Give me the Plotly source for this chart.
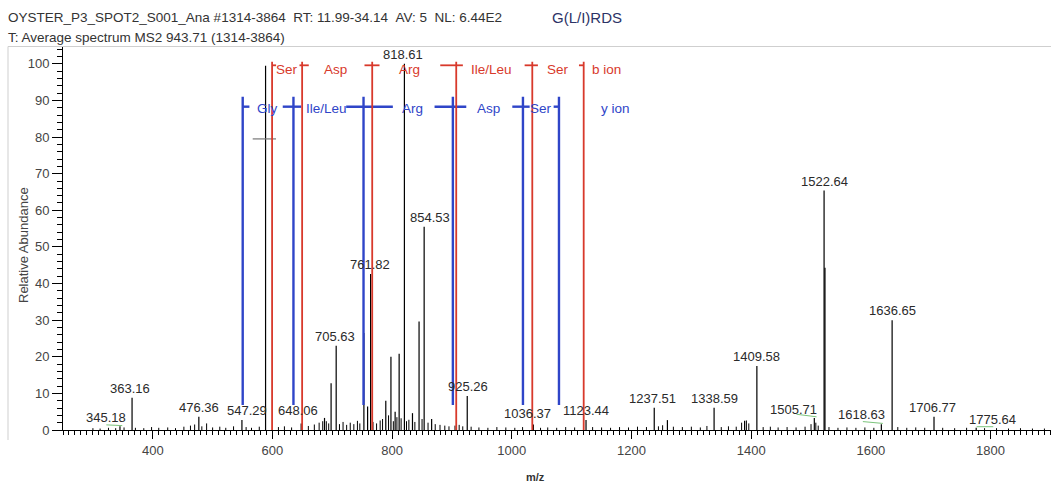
import plotly.graph_objects as go

# ---------------- data ----------------
# main (labelled / visible) peaks: m/z and relative abundance
peak_mz = [345.2, 365.4, 477.0, 549.0, 588.5, 648.0, 687.0, 698.0, 706.5, 752.8, 759.0,
           764.0, 789.4, 798.0, 805.0, 811.7, 820.5, 834.0, 845.0, 853.5, 866.0, 925.5,
           1036.0, 1124.0, 1238.0, 1260.0, 1338.0, 1389.0, 1409.5, 1505.5, 1521.8, 1523.3,
           1617.5, 1635.5, 1705.5, 1776.0]
peak_int = [1.0, 8.8, 3.6, 2.7, 99.5, 1.8, 3.3, 12.8, 23.0, 26.5, 6.4,
            42.6, 8.0, 20.0, 5.0, 20.8, 100.0, 4.6, 29.6, 55.5, 3.0, 9.3,
            1.5, 2.7, 6.1, 2.7, 6.1, 2.5, 17.5, 3.3, 65.4, 44.3,
            1.6, 30.0, 3.6, 0.6]

# small background peaks
noise_mz = [300, 312, 326, 338, 352, 371, 385, 398, 410, 425, 438, 452, 463, 470, 482, 490,
            500, 512, 522, 535, 556, 565, 578, 610, 620, 632, 660, 670, 678, 684, 690, 694,
            712, 718, 724, 730, 736, 742, 746, 768, 774, 780, 784, 794, 802, 808, 815, 824,
            828, 838, 850, 860, 872, 880, 888, 895, 905, 912, 918, 932, 945, 960, 975, 990,
            1005, 1018, 1048, 1060, 1075, 1090, 1105, 1135, 1150, 1165, 1180, 1195, 1210,
            1225, 1245, 1252, 1270, 1285, 1300, 1315, 1326, 1350, 1362, 1375, 1384, 1392,
            1396, 1420, 1432, 1445, 1460, 1475, 1490, 1500, 1508, 1512, 1530, 1545, 1560,
            1575, 1590, 1605, 1645, 1660, 1675, 1690, 1720, 1740, 1760, 1790, 1810, 1830,
            1850, 1870, 1890]
noise_int = [0.5, 0.4, 0.6, 0.5, 0.7, 0.6, 0.5, 0.8, 0.6, 0.7, 0.5, 0.9, 1.2, 1.5, 1.0, 1.8,
             0.7, 0.9, 0.6, 1.0, 0.8, 0.6, 0.9, 0.8, 1.0, 0.7, 1.1, 1.5, 2.0, 2.4, 2.4, 1.8,
             1.6, 2.2, 1.4, 2.0, 1.6, 2.5, 1.8, 2.2, 1.8, 2.6, 3.0, 4.0, 2.4, 3.5, 3.2, 2.4,
             2.8, 2.2, 3.0, 2.0, 1.6, 1.4, 1.2, 1.0, 1.2, 1.4, 1.0, 0.9, 0.7, 0.6, 0.8, 0.7,
             0.6, 0.8, 0.6, 0.7, 0.6, 0.8, 0.7, 0.8, 0.7, 0.6, 0.8, 0.7, 0.9,
             0.8, 1.0, 1.3, 0.9, 0.8, 0.9, 0.7, 1.1, 0.8, 1.0, 0.9, 2.0, 2.6,
             1.8, 0.8, 0.9, 0.7, 0.8, 0.7, 0.9, 1.6, 2.0, 1.2, 0.8, 0.6, 0.7,
             0.6, 0.7, 0.6, 0.8, 0.6, 0.7, 0.6, 0.6, 0.5, 0.6, 0.5, 0.5, 0.4,
             0.5, 0.4, 0.4]

# peak labels
label_text = ["345.18", "363.16", "476.36", "547.29", "648.06", "705.63", "761.82", "818.61",
              "854.53", "925.26", "1036.37", "1123.44", "1237.51", "1338.59", "1409.58",
              "1505.71", "1522.64", "1618.63", "1636.65", "1706.77", "1775.64"]
label_mz = [345.2, 365.4, 477.0, 549.0, 648.0, 706.5, 764.0, 820.5, 853.5, 925.5, 1036.0,
            1124.0, 1238.0, 1338.0, 1409.5, 1505.5, 1521.8, 1617.5, 1635.5, 1705.5, 1776.0]
label_int = [1.0, 8.8, 3.6, 2.7, 1.8, 23.0, 42.6, 100.0, 55.5, 9.3, 1.5,
             2.7, 6.1, 6.1, 17.5, 3.3, 65.4, 1.6, 30.0, 3.6, 0.6]
label_dx = [-14, -2, 0, 5, -3, -1, -1, -1, 6, 1, -6, 0, -2, 0, 0, -21, 0, -20, 0, -2, 16]
label_dy = [-1, 0, 0, 0, 3, 0, 0, 0, 0, 0, 2, 0, 0, 0, 0, -1, 0, 0, 0, 0, -1]

# b-ion ladder (red)
b_ion_mz = [599.4, 649.6, 766.7, 907.1, 1034.2, 1120.1]
b_seg_lo = [599.4, 645.2, 753.8, 880.4, 1021.4, 1112.2]
b_seg_hi = [606.1, 660.7, 778.9, 918.2, 1043.6, 1120.1]
b_names = ["Ser", "Asp", "Arg", "Ile/Leu", "Ser", "b ion"]
b_name_mz = [623.9, 704.8, 828.6, 966.7, 1077.1, 1159.0]

# y-ion ladder (blue)
y_ion_mz = [550.3, 635.1, 752.2, 901.5, 1018.6, 1078.8]
y_seg_lo = [550.3, 617.2, 723.2, 870.9, 1000.8, 1069.9]
y_seg_hi = [561.5, 648.0, 801.2, 923.9, 1029.8, 1078.8]
y_names = ["Gly", "Ile/Leu", "Arg", "Asp", "Ser", "y ion"]
y_name_mz = [592.1, 690.8, 834.6, 961.2, 1049.3, 1173.0]

x_ticks = [400, 600, 800, 1000, 1200, 1400, 1600, 1800]
y_ticks = [0, 10, 20, 30, 40, 50, 60, 70, 80, 90, 100]

# ---------------- figure ----------------
FONT = "Arial, Liberation Sans, sans-serif"
RED = "#d8392b"
BLUE = "#2f45c8"

W, H = 1051, 482
L, R, T, B = 63, 0, 47, 52


def sticks(xs, ys):
    X, Y = [], []
    for x, y in zip(xs, ys):
        X += [x, x, None]
        Y += [0, y, None]
    return X, Y


fig = go.Figure()

nx, ny = sticks(noise_mz, noise_int)
fig.add_trace(go.Scatter(x=nx, y=ny, mode="lines", line=dict(color="black", width=1),
                         hoverinfo="skip", showlegend=False))
px_, py_ = sticks(peak_mz, peak_int)
fig.add_trace(go.Scatter(x=px_, y=py_, mode="lines", line=dict(color="black", width=1.2),
                         hoverinfo="skip", showlegend=False))

# green smoothing marks under some labels
green_x = [322.4, 349.0, None, 1475.7, 1509.2, None, 1586.6, 1620.0, None, 1776.8, 1804.5]
green_y = [1.4, 1.2, None, 4.3, 3.6, None, 2.3, 1.8, None, 0.9, 0.9]
fig.add_trace(go.Scatter(x=green_x, y=green_y, mode="lines", line=dict(color="#7cc47c", width=1),
                         hoverinfo="skip", showlegend=False))

# gray marker segment
fig.add_trace(go.Scatter(x=[567, 606], y=[79.5, 79.5], mode="lines",
                         line=dict(color="#777777", width=1.2), hoverinfo="skip", showlegend=False))

# y-ion ladder
vx, vy = [], []
for m in y_ion_mz:
    vx += [m, m, None]
    vy += [6.8, 91.0, None]
for lo, hi in zip(y_seg_lo, y_seg_hi):
    vx += [lo, hi, None]
    vy += [88.3, 88.3, None]
fig.add_trace(go.Scatter(x=vx, y=vy, mode="lines", line=dict(color=BLUE, width=2.4),
                         hoverinfo="skip", showlegend=False))

# b-ion ladder
vx, vy = [], []
for m in b_ion_mz:
    vx += [m, m, None]
    vy += [0, 100.6, None]
for lo, hi in zip(b_seg_lo, b_seg_hi):
    vx += [lo, hi, None]
    vy += [99.6, 99.6, None]
fig.add_trace(go.Scatter(x=vx, y=vy, mode="lines", line=dict(color=RED, width=1.8),
                         hoverinfo="skip", showlegend=False))

ann = []
for t, m, v, dx, dy in zip(label_text, label_mz, label_int, label_dx, label_dy):
    ann.append(dict(x=m, y=v, xref="x", yref="y", text=t, showarrow=False,
                    xanchor="center", yanchor="bottom", xshift=dx, yshift=dy,
                    font=dict(family=FONT, size=13, color="#2a2a2a")))
for t, m in zip(b_names, b_name_mz):
    ann.append(dict(x=m, y=98.4, xref="x", yref="y", text=t, showarrow=False,
                    xanchor="center", yanchor="middle",
                    font=dict(family=FONT, size=13.5, color=RED)))
for t, m in zip(y_names, y_name_mz):
    ann.append(dict(x=m, y=87.9, xref="x", yref="y", text=t, showarrow=False,
                    xanchor="center", yanchor="middle",
                    font=dict(family=FONT, size=13.5, color=BLUE)))


def pxX(p):
    return (p - L) / (W - L - R)


def pxY(p):
    return (H - B - p) / (H - T - B)


NB = "\u00a0"
ann.append(dict(x=pxX(6), y=pxY(18), xref="paper", yref="paper", xanchor="left", yanchor="middle",
                showarrow=False,
                text=f"OYSTER_P3_SPOT2_S001_Ana #1314-3864{NB}{NB}RT: 11.99-34.14{NB}{NB}AV: 5{NB}{NB}NL: 6.44E2",
                font=dict(family=FONT, size=13.5, color="#333333")))
ann.append(dict(x=pxX(6), y=pxY(37), xref="paper", yref="paper", xanchor="left", yanchor="middle",
                showarrow=False, text="T: Average spectrum MS2 943.71 (1314-3864)",
                font=dict(family=FONT, size=13.5, color="#333333")))
ann.append(dict(x=pxX(587), y=pxY(17), xref="paper", yref="paper", xanchor="center", yanchor="middle",
                showarrow=False, text="G(L/I)RDS",
                font=dict(family=FONT, size=15, color="#2c3366")))
ann.append(dict(x=pxX(24), y=pxY(245), xref="paper", yref="paper", xanchor="center", yanchor="middle",
                showarrow=False, text="Relative Abundance", textangle=-90,
                font=dict(family=FONT, size=13, color="#444444")))
ann.append(dict(x=pxX(535), y=pxY(477), xref="paper", yref="paper", xanchor="center", yanchor="middle",
                showarrow=False, text="<b>m/z</b>",
                font=dict(family=FONT, size=11, color="#333333")))

shapes = [
    dict(type="line", xref="paper", yref="paper", x0=pxX(8), x1=1.0, y0=pxY(46.5), y1=pxY(46.5),
         line=dict(color="#cfcfcf", width=1)),
    dict(type="line", xref="paper", yref="paper", x0=pxX(8), x1=pxX(8), y0=pxY(46.5), y1=pxY(440),
         line=dict(color="#cfcfcf", width=1)),
]

fig.update_layout(
    width=W, height=H,
    margin=dict(l=L, r=R, t=T, b=B, pad=0),
    paper_bgcolor="white", plot_bgcolor="white",
    annotations=ann, shapes=shapes,
    showlegend=False,
    xaxis=dict(range=[250, 1901], tickvals=x_ticks, ticktext=[str(v) for v in x_ticks],
               showgrid=False, zeroline=False, showline=True, linecolor="black", linewidth=1,
               ticks="outside", ticklen=8, tickcolor="black", tickwidth=1,
               minor=dict(dtick=10, tick0=0, ticks="outside", ticklen=4, tickcolor="black", tickwidth=1),
               tickfont=dict(family=FONT, size=13, color="#444444")),
    yaxis=dict(range=[0, 104.6], tickvals=y_ticks, ticktext=[str(v) for v in y_ticks],
               showgrid=False, zeroline=False, showline=True, linecolor="black", linewidth=1,
               ticks="outside", ticklen=10, tickcolor="black", tickwidth=1,
               minor=dict(dtick=2, tick0=0, ticks="outside", ticklen=5, tickcolor="black", tickwidth=1),
               tickfont=dict(family=FONT, size=13, color="#444444")),
)

fig.write_html("out.html")
